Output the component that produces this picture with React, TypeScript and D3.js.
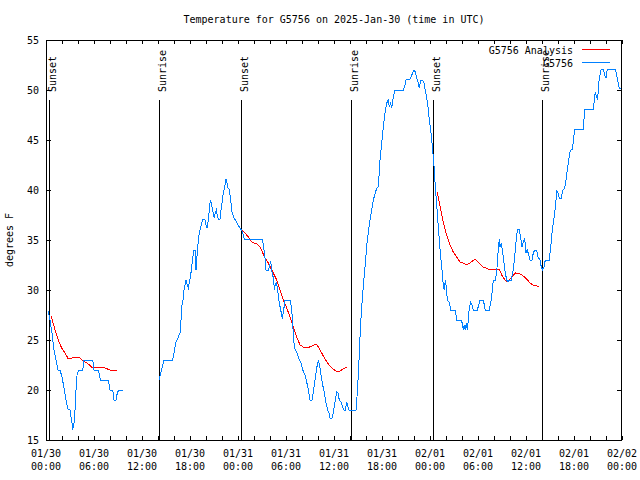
import React from "react";
import * as d3 from "d3";

// hours since 01/30 00:00 UTC, temperature (F)
const obsSegment1: [number, number][] = [
  [0.29, 27.9], [0.5, 27], [0.75, 25.7], [1.0, 24], [1.25, 23], [1.5, 22], [1.75, 22], [2.0, 21.3],
  [2.25, 20.2], [2.5, 19], [2.75, 18.1], [3.0, 18], [3.25, 16.7], [3.33, 16], [3.5, 16.7], [3.63, 18],
  [3.75, 20], [3.9, 21.7], [4.16, 22], [4.59, 22], [4.75, 23], [5.84, 23], [6.0, 22], [6.54, 22],
  [6.79, 21], [7.79, 21], [8.0, 20], [8.34, 20], [8.5, 19], [8.75, 19], [8.91, 19.7], [9.09, 20], [9.59, 20],
];

const obsSegment2: [number, number][] = [
  [14.16, 21], [14.34, 21.7], [14.59, 22.5], [14.75, 23], [15.84, 23], [16.0, 23.7], [16.25, 24.8],
  [16.54, 25.3], [16.75, 25.7], [16.88, 27], [17.0, 28.5], [17.13, 29], [17.25, 30], [17.38, 30.5],
  [17.5, 31], [17.66, 30.5], [17.79, 30.2], [17.91, 30.7], [18.09, 31.5], [18.21, 32.3], [18.34, 33.2],
  [18.5, 34], [18.63, 34], [18.66, 33], [18.75, 32], [18.84, 33], [18.96, 34.2], [19.09, 35.3],
  [19.25, 36], [19.46, 36.7], [19.59, 37.1], [19.84, 37.1], [20.0, 36.5], [20.13, 36.2], [20.29, 37],
  [20.41, 38], [20.54, 39], [20.66, 38.7], [20.79, 38.2], [20.91, 37.7], [21.04, 37.2], [21.16, 37.7],
  [21.29, 38], [21.41, 37.5], [21.54, 37.1], [21.75, 37.1], [21.88, 38], [22.0, 38.7], [22.13, 39.5],
  [22.25, 40], [22.38, 40.5], [22.5, 41.1], [22.63, 40.7], [22.75, 40.2], [22.88, 40.1], [23.0, 39.5],
  [23.13, 38.7], [23.25, 37.8], [23.5, 37.2], [23.75, 36.9], [24.0, 36.5], [24.25, 36.2], [24.5, 35.9],
  [24.66, 35.5], [24.79, 35.1], [27.04, 35.1], [27.16, 34.5], [27.34, 33.5], [27.5, 32], [27.79, 32],
  [27.91, 32.3], [28.09, 32.9], [28.21, 32], [28.34, 31.5], [28.46, 31], [28.54, 30], [28.66, 30.5],
  [28.79, 30.8], [28.91, 30.2], [29.04, 29.5], [29.16, 28.7], [29.34, 28], [29.46, 27.5], [29.54, 27.1],
  [29.71, 28], [29.88, 29], [30.54, 29], [30.71, 28], [30.84, 26.7], [30.91, 25.5], [31.04, 24.3],
  [31.25, 23.9], [31.46, 23.5], [31.66, 23], [31.88, 22.7], [32.09, 22], [32.38, 21.5], [32.59, 20.8],
  [32.79, 20], [33.0, 19], [33.25, 19], [33.41, 19.8], [33.63, 21], [33.84, 22.2], [34.04, 23],
  [34.25, 22.2], [34.41, 21.3], [34.59, 20.5], [34.79, 19.7], [35.0, 18.7], [35.21, 18], [35.38, 17.7],
  [35.5, 17.2], [35.71, 17.1], [35.91, 17.7], [36.13, 18.8], [36.34, 19.8], [36.5, 19.7], [36.66, 19],
  [36.88, 18.8], [37.09, 18.3], [37.25, 18], [37.41, 18], [37.59, 18.8], [37.75, 18.3], [37.88, 18],
  [38.75, 18], [38.91, 19.7], [39.09, 22.3], [39.25, 25.3], [39.41, 27.7], [39.59, 29.7], [39.88, 32.3],
  [40.16, 35], [40.5, 37], [40.91, 39], [41.34, 40.2], [41.54, 40.3], [41.75, 43], [41.96, 44.7],
  [42.16, 46.3], [42.38, 47.7], [42.59, 48.7], [42.79, 49], [42.91, 48.3], [43.09, 48.7], [43.21, 48.2],
  [43.41, 49.3], [43.63, 50], [44.66, 50], [44.88, 50.5], [45.0, 51], [45.5, 51.1], [45.84, 51.7],
  [46.0, 52], [46.16, 51.8], [46.34, 51.2], [46.54, 50.7], [46.66, 50.2], [46.84, 51], [47.09, 51],
  [47.25, 50.7], [47.41, 50], [47.59, 49.2], [47.75, 48.3], [47.91, 47], [48.09, 46], [48.25, 44.7],
  [48.41, 43.3], [48.54, 42], [48.66, 40.3], [48.79, 39], [48.91, 37.7], [49.04, 36.3], [49.16, 35],
  [49.29, 33.7], [49.41, 32.7], [49.54, 31.7], [49.66, 30.5], [49.79, 30], [49.91, 31], [50.04, 30.3],
  [50.16, 29], [50.41, 28.8], [50.59, 28], [51.16, 28], [51.34, 27], [51.91, 27], [52.09, 26.5],
  [52.16, 26], [52.29, 26.5], [52.41, 26], [52.54, 26.7], [52.66, 26], [52.79, 27], [52.91, 28.2],
  [53.09, 28.8], [53.25, 28.5], [53.41, 28], [53.91, 28], [54.09, 28.5], [54.25, 29], [54.66, 29],
  [54.79, 28.5], [54.91, 28], [55.41, 28], [55.59, 28.7], [55.75, 29.7], [55.91, 31], [56.16, 31],
  [56.34, 31.8], [56.5, 33.7], [56.66, 35.1], [56.75, 34.3], [56.91, 34.7], [57.09, 33.7], [57.25, 32.7],
  [57.41, 31.7], [57.59, 31], [57.75, 30.8], [57.91, 31], [58.16, 31], [58.34, 31.7], [58.5, 32.7],
  [58.66, 34], [58.84, 35.5], [58.96, 36.1], [59.16, 36.1], [59.34, 35.2], [59.5, 34.3], [59.66, 34.8],
  [59.84, 35.1], [60.0, 33.7], [60.16, 34], [60.34, 33.5], [60.5, 33], [60.75, 33], [60.91, 33.7],
  [61.09, 34], [61.34, 34], [61.5, 33.3], [61.75, 33], [61.91, 32.3], [62.09, 32], [62.25, 32.3],
  [62.41, 33], [62.91, 33], [63.09, 34.3], [63.25, 35.7], [63.41, 36.7], [63.59, 37.7], [63.75, 39],
  [63.84, 40], [64.0, 39.7], [64.16, 39.2], [64.41, 39.2], [64.59, 40], [64.84, 40.2], [65.0, 41],
  [65.16, 42], [65.34, 43], [65.5, 43.8], [65.66, 44.1], [65.84, 44.1], [65.91, 45], [66.09, 46],
  [66.16, 46.1], [67.16, 46.1], [67.34, 48.1], [68.41, 48.1], [68.54, 49], [68.66, 49.8], [68.84, 49.3],
  [68.96, 49.1], [69.09, 50.7], [69.25, 51.5], [69.41, 52.1], [69.66, 52.1], [69.84, 51.5], [70.0, 51.2],
  [70.16, 52.1], [71.16, 52.1], [71.34, 51.5], [71.5, 50.8], [71.66, 50.2], [71.84, 50.1],
];

const analysisSegment1: [number, number][] = [
  [0.62, 27.4], [0.71, 27.2], [1.13, 26], [1.54, 25], [1.96, 24.2], [2.38, 23.7], [2.79, 23.1], [3.21, 23.2],
  [3.75, 23.3], [4.25, 23.2], [4.66, 22.9], [5.29, 22.6], [5.84, 22.2], [6.34, 22.3], [6.75, 22.3],
  [7.38, 22.2], [8.0, 22], [8.84, 21.9],
];

const analysisSegment2: [number, number][] = [
  [24.46, 36], [24.88, 35.7], [25.29, 35.3], [25.71, 34.8], [26.34, 34.6], [26.75, 34.3], [27.04, 33.8],
  [27.38, 33.2], [27.79, 32.7], [28.41, 31.7], [28.84, 31], [29.25, 30], [29.66, 29], [30.09, 28.2],
  [30.5, 27.3], [30.91, 26.3], [31.34, 25.3], [31.75, 24.5], [32.16, 24.3], [32.66, 24.2], [33.21, 24.4],
  [33.75, 24.6], [34.04, 24.3], [34.46, 23.7], [34.88, 23.1], [35.29, 22.6], [35.71, 22.2], [36.25, 21.9],
  [36.75, 21.9], [37.16, 22.1], [37.66, 22.3],
];

const analysisSegment3: [number, number][] = [
  [48.91, 39.8], [49.16, 38.8], [49.41, 37.8], [49.66, 36.8], [49.91, 36], [50.16, 35.3], [50.5, 34.5],
  [50.91, 33.8], [51.34, 33.3], [51.75, 32.8], [52.16, 32.7], [52.59, 32.5], [53.0, 32.7], [53.63, 33.1],
  [54.16, 32.7], [54.66, 32.3], [55.29, 32.1], [55.91, 32.1], [56.66, 32.1], [56.96, 31.5], [57.38, 31],
  [57.66, 30.8], [58.21, 31.3], [58.71, 31.7], [59.25, 31.6], [59.66, 31.4], [60.09, 31.1], [60.5, 30.7],
  [60.91, 30.5], [61.34, 30.4], [61.66, 30.3],
];

const sunEventHours = [0.375, 14.125, 24.375, 38.125, 48.375, 62.0];
const sunEventLabels = ["Sunset", "Sunrise", "Sunset", "Sunrise", "Sunset", "Sunrise"];

const xTickDates = ["01/30", "01/30", "01/30", "01/30", "01/31", "01/31", "01/31", "01/31", "02/01", "02/01", "02/01", "02/01", "02/02"];
const xTickTimes = ["00:00", "06:00", "12:00", "18:00", "00:00", "06:00", "12:00", "18:00", "00:00", "06:00", "12:00", "18:00", "00:00"];
const yTicks = [15, 20, 25, 30, 35, 40, 45, 50, 55];

const titleText = "Temperature for G5756 on 2025-Jan-30 (time in UTC)";
const yLabelText = "degrees F";
const legendNames = ["G5756 Analysis", "G5756"];

const RED = "#ff0000";
const BLUE = "#0080ff";
const FONT = "'DejaVu Sans Mono', 'Liberation Mono', monospace";

export default function App() {
  const W = 640, H = 480;
  const L = 46, R = 622, T = 40, B = 440;
  const x = d3.scaleLinear().domain([0, 72]).range([L, R]);
  const y = d3.scaleLinear().domain([15, 55]).range([B, T]);
  const line = d3.line<[number, number]>().x(d => x(d[0])).y(d => y(d[1]));

  const minorTicks = d3.range(0, 73, 2);
  const majorHours = d3.range(0, 73, 6);

  return (
    <svg width={W} height={H} style={{ position: "absolute", left: 0, top: 0, background: "#fff" }}
      fontFamily={FONT} fontSize={10}>
      <rect x={0} y={0} width={W} height={H} fill="#fff" />
      {/* title */}
      <text x={(L + R) / 2} y={23} textAnchor="middle" fill="#000">{titleText}</text>
      {/* y label */}
      <text transform={`translate(13,${(T + B) / 2}) rotate(-90)`} textAnchor="middle" fill="#000">{yLabelText}</text>

      {/* y ticks */}
      {yTicks.map(v => (
        <g key={"y" + v}>
          <line x1={L + 0.5} x2={L + 5} y1={Math.round(y(v)) + 0.5} y2={Math.round(y(v)) + 0.5} stroke="#000" />
          <line x1={R - 0.5} x2={R - 5} y1={Math.round(y(v)) + 0.5} y2={Math.round(y(v)) + 0.5} stroke="#000" />
          <text x={39} y={y(v) + 4} textAnchor="end" fill="#000">{v}</text>
        </g>
      ))}

      {/* x ticks */}
      {minorTicks.map(h => (
        <g key={"x" + h}>
          <line x1={Math.round(x(h)) + 0.5} x2={Math.round(x(h)) + 0.5} y1={B} y2={B - 4} stroke="#000" />
          <line x1={Math.round(x(h)) + 0.5} x2={Math.round(x(h)) + 0.5} y1={T} y2={T + 4} stroke="#000" />
        </g>
      ))}
      {majorHours.map((h, i) => (
        <g key={"xl" + h}>
          <text x={x(h)} y={457} textAnchor="middle" fill="#000">{xTickDates[i]}</text>
          <text x={x(h)} y={470} textAnchor="middle" fill="#000">{xTickTimes[i]}</text>
        </g>
      ))}

      {/* sun events */}
      {sunEventHours.map((h, i) => (
        <g key={"s" + i}>
          <line x1={Math.round(x(h)) + 0.5} x2={Math.round(x(h)) + 0.5} y1={100} y2={B} stroke="#000" />
          <text transform={`translate(${Math.round(x(h)) + 7},92) rotate(-90)`} textAnchor="start" fill="#000">{sunEventLabels[i]}</text>
        </g>
      ))}

      {/* series */}
      {[analysisSegment1, analysisSegment2, analysisSegment3].map((seg, i) => (
        <path key={"a" + i} d={line(seg) || ""} fill="none" stroke={RED} strokeWidth={1} shapeRendering="crispEdges" />
      ))}
      {[obsSegment1, obsSegment2].map((seg, i) => (
        <path key={"o" + i} d={line(seg) || ""} fill="none" stroke={BLUE} strokeWidth={1} shapeRendering="crispEdges" />
      ))}

      {/* border */}
      <rect x={L + 0.5} y={T + 0.5} width={R - L - 1} height={B - T} fill="none" stroke="#000" />

      {/* legend */}
      <text x={573} y={54} textAnchor="end" fill="#000">{legendNames[0]}</text>
      <line x1={582} x2={610} y1={49.5} y2={49.5} stroke={RED} />
      <text x={573} y={67} textAnchor="end" fill="#000">{legendNames[1]}</text>
      <line x1={582} x2={610} y1={62.5} y2={62.5} stroke={BLUE} />
    </svg>
  );
}
